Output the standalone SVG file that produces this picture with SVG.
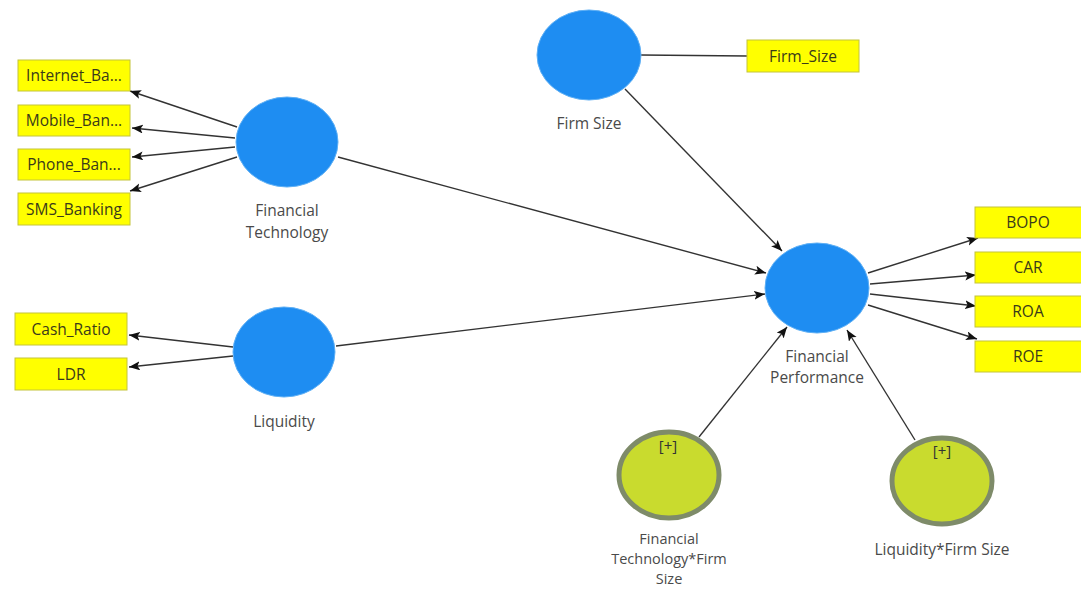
<svg xmlns="http://www.w3.org/2000/svg" width="1081" height="590" viewBox="0 0 1081 590">
<defs>
<marker id="ah" markerUnits="userSpaceOnUse" markerWidth="12" markerHeight="10" refX="11" refY="4.5" orient="auto">
<path d="M0,0 L11,4.5 L0,9 L2.5,4.5 z" fill="#111"/>
</marker>
<style>
.ln{stroke:#333;stroke-width:1.4;fill:none}
.ar{stroke:#333;stroke-width:1.4;fill:none;marker-end:url(#ah)}
.lv{fill:#1e8df2;stroke:#5fb0f5;stroke-width:1}
.mod{fill:#c9db2e;stroke:#7e8b69;stroke-width:5}
.ind{fill:#ffff00;stroke:#c4c43a;stroke-width:1}
.it{font-family:"Open Sans","DejaVu Sans",sans-serif;font-size:15.5px;fill:#3a3a1a;text-anchor:middle}
.lb{font-family:"Open Sans","DejaVu Sans",sans-serif;font-size:15.5px;fill:#4a4a4a;text-anchor:middle}
.lbs{font-family:"Open Sans","DejaVu Sans",sans-serif;font-size:14.5px;fill:#4a4a4a;text-anchor:middle}
.pl{font-family:"Open Sans","DejaVu Sans",sans-serif;font-size:15px;fill:#333;text-anchor:middle}
</style>
</defs>
<rect width="1081" height="590" fill="#fff"/>
<g id="connectors">
<line class="ar" x1="237" y1="127" x2="130" y2="91"/>
<line class="ar" x1="235" y1="138" x2="132" y2="128"/>
<line class="ar" x1="235" y1="147" x2="132" y2="157"/>
<line class="ar" x1="237" y1="157" x2="130" y2="191"/>
<line class="ar" x1="233" y1="347" x2="129" y2="335"/>
<line class="ar" x1="233" y1="356" x2="129" y2="367"/>
<line class="ln" x1="641" y1="55" x2="747" y2="56"/>
<line class="ar" x1="625" y1="89" x2="782" y2="251"/>
<line class="ar" x1="338" y1="157" x2="766" y2="273"/>
<line class="ar" x1="336" y1="346" x2="765" y2="294"/>
<line class="ar" x1="699" y1="437" x2="787" y2="327"/>
<line class="ar" x1="915" y1="440" x2="847" y2="330"/>
<line class="ar" x1="868" y1="273" x2="978" y2="238"/>
<line class="ar" x1="870" y1="284" x2="976" y2="275"/>
<line class="ar" x1="870" y1="294" x2="976" y2="306"/>
<line class="ar" x1="868" y1="305" x2="977" y2="339"/>
</g>
<g id="ind-internet"><rect class="ind" x="18" y="60" width="112" height="31"/><text class="it" x="74" y="81">Internet_Ba...</text></g>
<g id="ind-mobile"><rect class="ind" x="18" y="105" width="112" height="31"/><text class="it" x="74" y="126">Mobile_Ban...</text></g>
<g id="ind-phone"><rect class="ind" x="18" y="149" width="112" height="31"/><text class="it" x="74" y="170">Phone_Ban...</text></g>
<g id="ind-sms"><rect class="ind" x="18" y="193" width="112" height="32"/><text class="it" x="74" y="215">SMS_Banking</text></g>
<g id="ind-cash"><rect class="ind" x="15" y="313" width="112" height="32"/><text class="it" x="71" y="335">Cash_Ratio</text></g>
<g id="ind-ldr"><rect class="ind" x="15" y="358" width="112" height="32"/><text class="it" x="71" y="380">LDR</text></g>
<g id="ind-firmsize"><rect class="ind" x="747" y="40" width="112" height="32"/><text class="it" x="803" y="62">Firm_Size</text></g>
<g id="ind-bopo"><rect class="ind" x="975" y="207" width="110" height="31"/><text class="it" x="1028" y="228">BOPO</text></g>
<g id="ind-car"><rect class="ind" x="975" y="252" width="110" height="31"/><text class="it" x="1028" y="273">CAR</text></g>
<g id="ind-roa"><rect class="ind" x="975" y="296" width="110" height="31"/><text class="it" x="1028" y="317">ROA</text></g>
<g id="ind-roe"><rect class="ind" x="975" y="341" width="110" height="31"/><text class="it" x="1028" y="362">ROE</text></g>
<g id="lv-ft"><ellipse class="lv" cx="287" cy="142" rx="51" ry="45"/><text class="lb" x="287" y="216">Financial</text><text class="lb" x="287" y="238">Technology</text></g>
<g id="lv-liq"><ellipse class="lv" cx="284" cy="352" rx="51" ry="45"/><text class="lb" x="284" y="427">Liquidity</text></g>
<g id="lv-fs"><ellipse class="lv" cx="589" cy="55" rx="52" ry="45"/><text class="lb" x="589" y="129">Firm Size</text></g>
<g id="lv-fp"><ellipse class="lv" cx="817" cy="288" rx="52" ry="45"/><text class="lb" x="817" y="362">Financial</text><text class="lb" x="817" y="383">Performance</text></g>
<g id="lv-ftfs"><ellipse class="mod" cx="669" cy="475" rx="50" ry="43"/><text class="pl" x="668" y="451">[+]</text><text class="lbs" x="669" y="544">Financial</text><text class="lbs" x="669" y="564">Technology*Firm</text><text class="lbs" x="669" y="584">Size</text></g>
<g id="lv-lfs"><ellipse class="mod" cx="942" cy="481" rx="50" ry="43"/><text class="pl" x="942" y="456">[+]</text><text class="lb" x="942" y="555">Liquidity*Firm Size</text></g>
</svg>
